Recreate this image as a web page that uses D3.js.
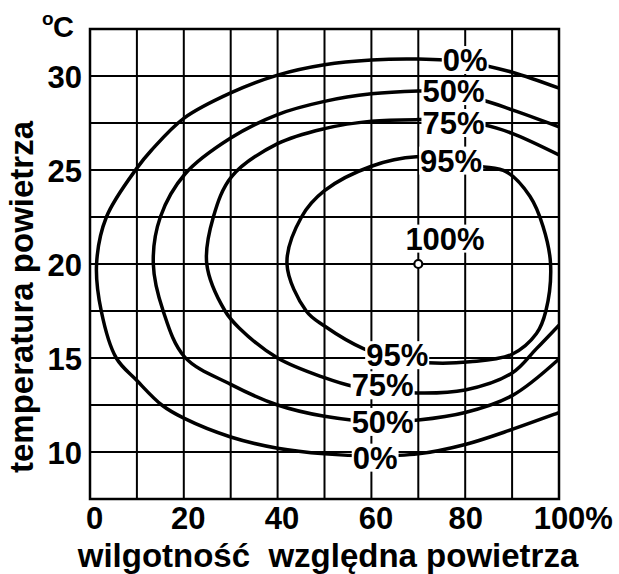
<!DOCTYPE html>
<html>
<head>
<meta charset="utf-8">
<script src="https://cdn.jsdelivr.net/npm/d3@7"></script>
<style>
  html, body { margin: 0; padding: 0; background: #fff; }
  svg text { font-family: "Liberation Sans", Arial, sans-serif; font-weight: bold; fill: #000; }
</style>
</head>
<body>
<svg id="chart" width="619" height="574"></svg>
<script>
// ---- Data (relative humidity %, air temperature °C) ----
const xTicks = [0, 20, 40, 60, 80, 100];
const yTicks = [10, 15, 20, 25, 30];
const xGrid = [0, 10, 20, 30, 40, 50, 60, 70, 80, 90, 100];
const yGrid = [7.5, 10, 12.5, 15, 17.5, 20, 22.5, 25, 27.5, 30, 32.5];

const curve0 = [[100,29.35],[90,30.2],[80,30.75],[70,30.9],[60,30.85],[50,30.6],[40,30.05],[30,29.1],[20,27.75],[13.1,26.05],[10,25.1],[3.5,22.5],[1.4,20],[2.4,17.5],[5.6,15],[10,13.8],[15.3,12.5],[20,11.8],[30,10.8],[40,10.2],[50,9.9],[60,9.8],[70,9.9],[80,10.4],[90,11.2],[100,12.1]];
const curve50 = [[100,27.3],[90,28.2],[84,28.7],[75,29.2],[70,29.2],[60,29.05],[50,28.65],[40,27.95],[30,26.7],[20.3,24.8],[15,22.5],[13.5,20],[15.6,17.5],[20.2,15.05],[30,13.6],[40,12.5],[50,11.9],[62,11.6],[70,11.7],[80,12.1],[90,13.0],[100,14.95]];
const curve75 = [[100,25.8],[90,26.95],[84,27.4],[75,27.65],[70,27.68],[60,27.6],[50,27.2],[40,26.4],[30.2,24.65],[26.3,22.5],[24.9,20],[28.8,17.5],[31.8,16.6],[40,15],[50,13.95],[56,13.5],[68,13.15],[80,13.3],[90,14.2],[95.2,15.5],[100,16.75]];
const curve95 = [[83.2,25.2],[88.8,24.9],[93.8,23.6],[96.6,22.0],[98.2,20],[97.2,17.5],[95.2,16.3],[90,15.2],[81,14.8],[72,14.75],[65,15.0],[58.3,15.5],[50,16.7],[46.1,17.5],[42,20],[45.1,22.5],[50,23.9],[60,25.2],[69.6,25.7],[76,25.55]];

const labelText = ["0%", "50%", "75%", "95%", "100%", "95%", "75%", "50%", "0%"];
const labelX    = [80, 77.5, 77.5, 77, 75.7, 65.5, 62.4, 62.4, 60.8];
const labelY    = [30.85, 29.2, 27.5, 25.5, 21.35, 15.15, 13.55, 11.6, 9.7];

const optimum = [70, 20];

const xTitle = "wilgotność  względna powietrza";
const yTitle = "temperatura powietrza";

// ---- Layout ----
const svg = d3.select("#chart");
const pL = 90, pR = 559, pT = 29, pB = 499;
const x = d3.scaleLinear().domain([0, 100]).range([pL, pR]);
const y = d3.scaleLinear().domain([7.5, 32.5]).range([pB, pT]);

// grid
const grid = svg.append("g").attr("stroke", "#000").attr("stroke-width", 2).attr("fill", "none");
grid.selectAll("line.v").data(xGrid).join("line").attr("class", "v")
  .attr("x1", d => x(d)).attr("x2", d => x(d)).attr("y1", pT).attr("y2", pB);
grid.selectAll("line.h").data(yGrid).join("line").attr("class", "h")
  .attr("x1", pL).attr("x2", pR).attr("y1", d => y(d)).attr("y2", d => y(d));
svg.append("rect").attr("x", pL).attr("y", pT).attr("width", pR - pL).attr("height", pB - pT)
  .attr("fill", "none").attr("stroke", "#000").attr("stroke-width", 2.5);

// clip
svg.append("clipPath").attr("id", "plotclip").append("rect")
  .attr("x", pL).attr("y", pT).attr("width", pR - pL).attr("height", pB - pT);

// curves
const lineOpen = d3.line().x(d => x(d[0])).y(d => y(d[1])).curve(d3.curveCatmullRom.alpha(0.5));
const lineClosed = d3.line().x(d => x(d[0])).y(d => y(d[1])).curve(d3.curveCatmullRomClosed.alpha(0.5));
const cg = svg.append("g").attr("clip-path", "url(#plotclip)")
  .attr("fill", "none").attr("stroke", "#000").attr("stroke-width", 3.5).attr("stroke-linecap", "round");
[curve0, curve50, curve75].forEach(c => cg.append("path").attr("d", lineOpen(c)));
cg.append("path").attr("d", lineClosed(curve95));

// labels with white boxes
const lg = svg.append("g");
labelText.forEach((t, i) => {
  const g = lg.append("g");
  const rect = g.append("rect").attr("fill", "#fff");
  const txt = g.append("text").attr("x", x(labelX[i])).attr("y", y(labelY[i]))
    .attr("dy", "0.36em").attr("text-anchor", "middle").attr("font-size", 31).text(t);
  const w = txt.node().getComputedTextLength();
  rect.attr("x", x(labelX[i]) - w / 2 - 1).attr("width", w + 2)
    .attr("y", y(labelY[i]) - 14).attr("height", 28);
});

// optimum marker
svg.append("circle").attr("cx", x(optimum[0])).attr("cy", y(optimum[1])).attr("r", 4)
  .attr("fill", "#fff").attr("stroke", "#000").attr("stroke-width", 2.2);

// axes
const ax = svg.append("g").attr("transform", `translate(0,${pB})`)
  .call(d3.axisBottom(x).tickValues(xTicks).tickSize(0).tickPadding(8).tickFormat(d => String(d)));
ax.select(".domain").remove();
ax.attr("font-family", null).attr("font-size", null);
ax.selectAll("text").attr("font-size", 31).attr("fill", "#000")
  .attr("dx", d => d < 70 ? 4 : 0);
ax.selectAll(".tick").filter(d => d === 100).each(function() {
  const t = d3.select(this).select("text");
  const w = t.node().getComputedTextLength();
  d3.select(this).append("text").attr("x", w / 2).attr("y", t.attr("y")).attr("dy", t.attr("dy"))
    .attr("text-anchor", "start").attr("font-size", 31).attr("fill", "#000").text("%");
});

const ay = svg.append("g").attr("transform", `translate(${pL},0)`)
  .call(d3.axisLeft(y).tickValues(yTicks).tickSize(0).tickPadding(8));
ay.select(".domain").remove();
ay.attr("font-family", null).attr("font-size", null);
ay.selectAll("text").attr("font-size", 31).attr("dy", "0.36em").attr("fill", "#000");

// unit
svg.append("text").attr("x", 42).attr("y", 25).attr("font-size", 19).text("o");
svg.append("text").attr("x", 53).attr("y", 37).attr("font-size", 29).text("C");

// titles
svg.append("text").attr("x", 328).attr("y", 567).attr("text-anchor", "middle")
  .attr("font-size", 33).style("white-space", "pre").text(xTitle);
svg.append("text").attr("transform", "translate(33,297) rotate(-90)").attr("text-anchor", "middle")
  .attr("font-size", 33).text(yTitle);
</script>
</body>
</html>
